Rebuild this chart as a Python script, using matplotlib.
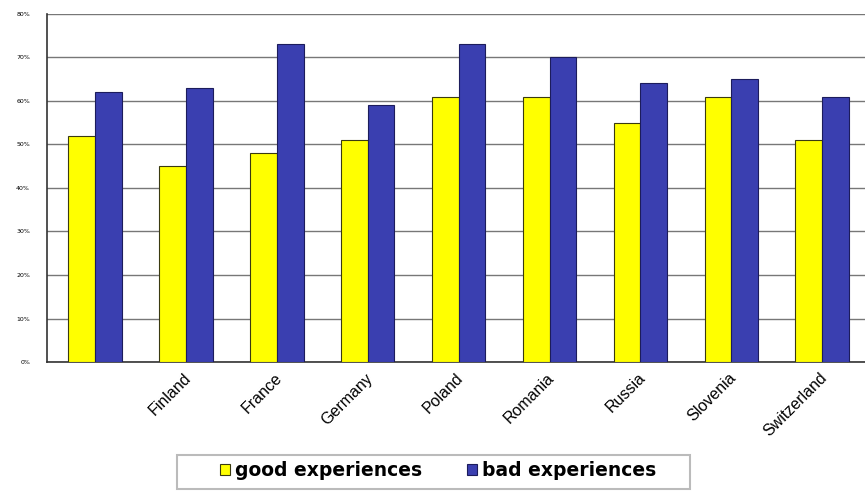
import numpy as np
import matplotlib.pyplot as plt
from matplotlib.patches import Rectangle
from matplotlib.ticker import FuncFormatter

# Share of respondents by country
countries = ["", "Finland", "France", "Germany", "Poland", "Romania",
             "Russia", "Slovenia", "Switzerland"]
good = [52, 45, 48, 51, 61, 61, 55, 61, 51]
bad = [62, 63, 73, 59, 73, 70, 64, 65, 61]

fig = plt.figure(figsize=(8.65, 4.92), dpi=100)
ax = fig.add_axes([0.054, 0.264, 0.946, 0.708])

x = np.arange(len(countries))
w = 0.295
ax.bar(x - w / 2 + 0.03, good, w, color="#FFFF00", edgecolor="#3a3a10", linewidth=0.8,
       label="good experiences", zorder=3)
ax.bar(x + w / 2 + 0.03, bad, w, color="#3A3FB0", edgecolor="#1c1c5c", linewidth=0.8,
       label="bad experiences", zorder=3)

ax.set_xlim(-0.5, len(countries) - 0.5)
ax.set_ylim(0, 80)
ax.set_yticks(range(0, 81, 10))
ax.yaxis.set_major_formatter(FuncFormatter(lambda v, p: f"{int(v)}%"))
ax.tick_params(axis="y", labelsize=4.5, length=0, pad=12)
ax.grid(axis="y", color="#777777", linewidth=1.0, zorder=0)

ax.set_xticks(x)
ax.set_xticklabels(countries, rotation=45, ha="right", rotation_mode="anchor",
                   fontsize=11.5, family="Liberation Sans")
ax.tick_params(axis="x", length=0, pad=6)

for side in ["top", "right"]:
    ax.spines[side].set_visible(False)
ax.spines["left"].set_color("#333333")
ax.spines["bottom"].set_color("#333333")
ax.spines["left"].set_linewidth(1.2)
ax.spines["bottom"].set_linewidth(1.2)

# legend without its own frame, boxed by a wider rectangle
leg = fig.legend(loc="center", bbox_to_anchor=(0.507, 0.043), ncol=2,
                 frameon=False, prop={"weight": "bold", "size": 13.5},
                 handlelength=0.5, handleheight=0.5, handletextpad=0.3,
                 columnspacing=2.4, borderaxespad=0)
fig.patches.append(Rectangle((0.2046, 0.006), 0.593, 0.069,
                             transform=fig.transFigure, fill=False,
                             edgecolor="#bbbbbb", linewidth=1.5))

fig.savefig("out.png", dpi=100)
